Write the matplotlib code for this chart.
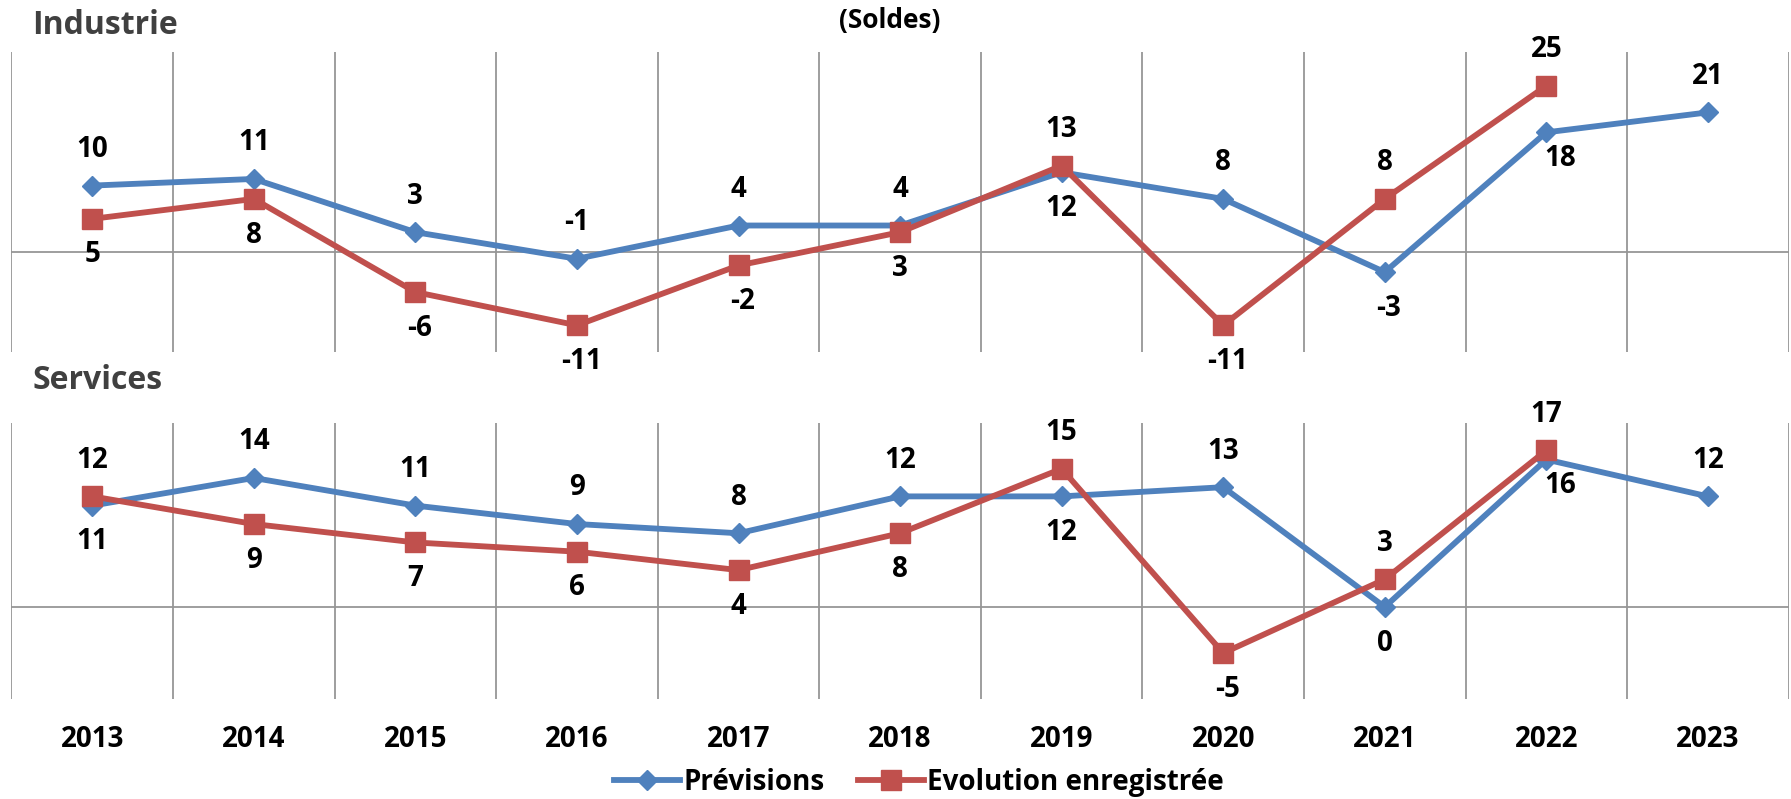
import numpy as np
import matplotlib
matplotlib.use("Agg")
import matplotlib.pyplot as plt

plt.rcParams['font.family'] = ['Open Sans', 'DejaVu Sans']

years = ['2013', '2014', '2015', '2016', '2017', '2018', '2019', '2020', '2021', '2022', '2023']

# Industrie
ind_prev = [10, 11, 3, -1, 4, 4, 12, 8, -3, 18, 21]
ind_real = [5, 8, -6, -11, -2, 3, 13, -11, 8, 25, np.nan]
# label position: 1 = above, -1 = below, 2 = below right
ind_prev_pos = [1, 1, 1, 1, 1, 1, -1, 1, -1, 2, 1]
ind_real_pos = [-1, -1, -1, -1, -1, -1, 1, -1, 1, 1, 0]

# Services
srv_prev = [11, 14, 11, 9, 8, 12, 12, 13, 0, 16, 12]
srv_real = [12, 9, 7, 6, 4, 8, 15, -5, 3, 17, np.nan]
srv_prev_pos = [-1, 1, 1, 1, 1, 1, -1, 1, -1, 2, 1]
srv_real_pos = [1, -1, -1, -1, -1, -1, 1, -1, 1, 1, 0]

blue = '#4F81BD'
red = '#C0504D'
grid_col = '#969696'

fig = plt.figure(figsize=(17.91, 7.99), dpi=100)
ax1 = fig.add_axes([0.0064, 0.5595, 0.9923, 0.3748])
ax2 = fig.add_axes([0.0064, 0.125, 0.9923, 0.346])

x = np.arange(len(years))


def draw(ax, prev, real, prev_pos, real_pos, ylim):
    ax.set_xlim(-0.5, len(years) - 0.5)
    ax.set_ylim(*ylim)
    for b in np.arange(-0.5, len(years), 1.0):
        ax.axvline(b, color=grid_col, lw=1.3, zorder=1)
    ax.axhline(0, color=grid_col, lw=1.3, zorder=1)
    for s in ax.spines.values():
        s.set_visible(False)
    ax.set_xticks([])
    ax.set_yticks([])
    ax.plot(x, prev, color=blue, lw=4.2, marker='D', ms=10, zorder=3,
            label='Prévisions')
    ax.plot(x, real, color=red, lw=4.2, marker='s', ms=14, zorder=3,
            label='Evolution enregistrée')
    for i in range(len(years)):
        for vals, pos in ((prev, prev_pos), (real, real_pos)):
            v = vals[i]
            p = pos[i]
            if p == 0 or np.isnan(v):
                continue
            dx, dy = 0, 26 * p
            if p < 0 and v < 0:
                dx = 3
            if p == 2:
                dx, dy = 10, -19
            ax.annotate('%d' % v, (x[i], v), xytext=(dx, dy),
                        textcoords='offset points', ha='center', va='center',
                        fontsize=20, fontweight='bold', color='black',
                        zorder=4)


draw(ax1, ind_prev, ind_real, ind_prev_pos, ind_real_pos, (-15, 30))
draw(ax2, srv_prev, srv_real, srv_prev_pos, srv_real_pos, (-10, 20))

for i, yr in enumerate(years):
    xf = fig.transFigure.inverted().transform(ax2.transData.transform((x[i], 0)))[0]
    fig.text(xf, 0.075, yr, ha='center', va='center', fontsize=20,
             fontweight='bold')

fig.text(0.018, 0.968, 'Industrie', ha='left', va='center', fontsize=23,
         fontweight='bold', color='#404040')
fig.text(0.018, 0.524, 'Services', ha='left', va='center', fontsize=23,
         fontweight='bold', color='#404040')
fig.text(0.497, 0.974, '(Soldes)', ha='center', va='center', fontsize=19,
         fontweight='bold', color='black')

h, l = ax2.get_legend_handles_labels()
fig.legend(h, l, loc='center', bbox_to_anchor=(0.513, 0.021), ncol=2,
           frameon=False, prop={'size': 20, 'weight': 'bold'},
           handlelength=2.4, handletextpad=0.1, columnspacing=1.2,
           borderpad=0, borderaxespad=0)

fig.savefig('out.png', dpi=100)
